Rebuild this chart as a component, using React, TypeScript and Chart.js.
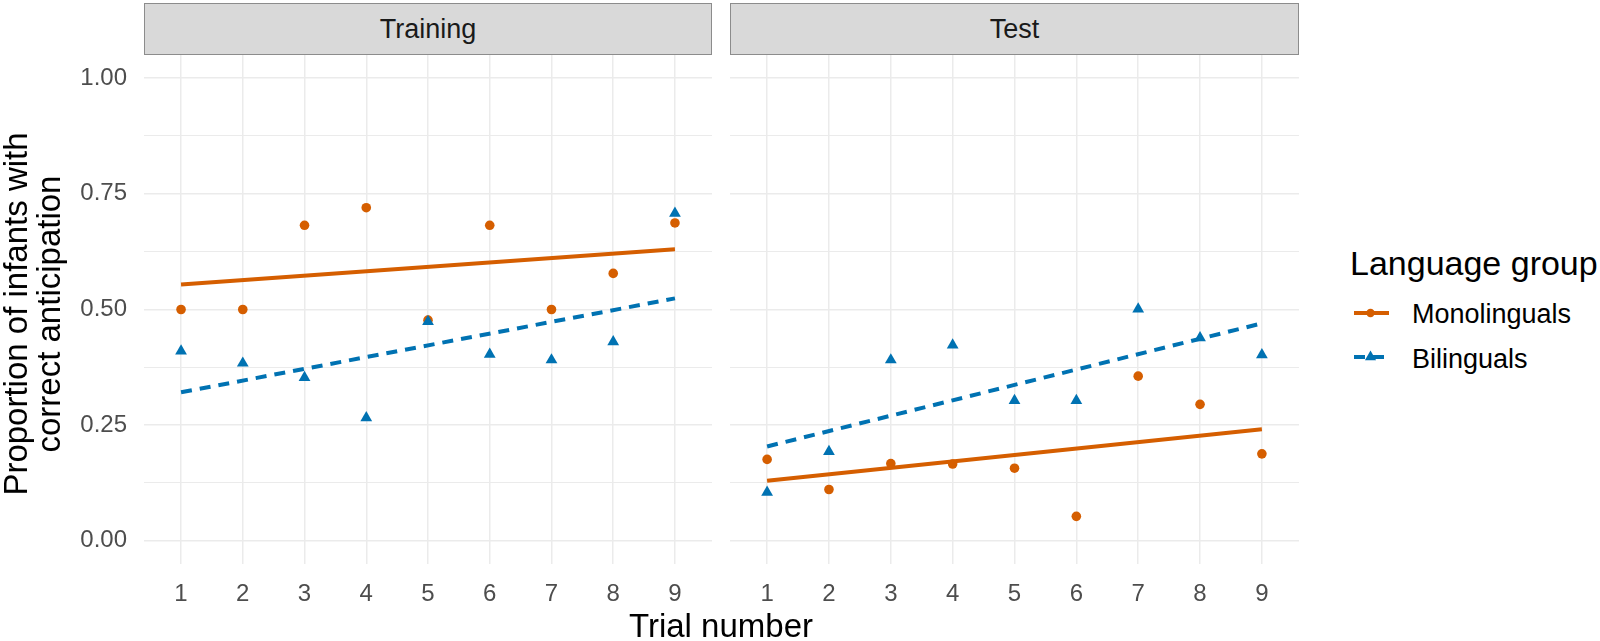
import React, { useEffect, useRef } from 'react';
import { Chart, registerables } from 'chart.js';

Chart.register(...registerables);

// ---------- data ----------
const trials = [1, 2, 3, 4, 5, 6, 7, 8, 9];
const xTickLabels = ['1', '2', '3', '4', '5', '6', '7', '8', '9'];
const yMajorTicks = [0, 0.25, 0.5, 0.75, 1];
const yTickLabels = ['0.00', '0.25', '0.50', '0.75', '1.00'];
const yMinorTicks = [0.125, 0.375, 0.625, 0.875];
const panelNames = ['Training', 'Test'];
const groupNames = ['Monolinguals', 'Bilinguals'];
const legendTitle = 'Language group';
const xTitle = 'Trial number';
const yTitleLines = ['Proportion of infants with', 'correct anticipation'];

const trainingMono = [0.5, 0.5, 0.682, 0.72, 0.477, 0.682, 0.5, 0.578, 0.687];
const trainingBi = [0.41, 0.384, 0.353, 0.266, 0.474, 0.403, 0.391, 0.43, 0.708];
const testMono = [0.176, 0.111, 0.167, 0.166, 0.157, 0.053, 0.356, 0.295, 0.188];
const testBi = [0.105, 0.193, 0.391, 0.423, 0.303, 0.303, 0.501, 0.439, 0.402];

// fitted linear trend lines (values at trial 1 and trial 9)
const fitTrials = [1, 9];
const trainingMonoFit = [0.554, 0.63];
const trainingBiFit = [0.321, 0.524];
const testMonoFit = [0.13, 0.241];
const testBiFit = [0.204, 0.47];

// ---------- styles ----------
const ORANGE = '#D55E00';
const BLUE = '#0072B2';
const GRID = '#EBEBEB';
const FONT = '"Liberation Sans", Arial, Helvetica, sans-serif';
const DASH = [11, 8];
const CANVAS_TOP = 20;
const CANVAS_H = 621;

function makeConfig(mono: number[], bi: number[], monoFit: number[], biFit: number[], showY: boolean, rightPad: number): any {
  const yAll = [...yMajorTicks, ...yMinorTicks].sort((a, b) => a - b);
  return {
    type: 'scatter',
    data: {
      datasets: [
        {
          type: 'line',
          label: groupNames[1] + ' fit',
          data: fitTrials.map((x, i) => ({ x, y: biFit[i] })),
          borderColor: BLUE,
          borderWidth: 4,
          borderDash: DASH,
          pointRadius: 0,
          fill: false,
        },
        {
          type: 'line',
          label: groupNames[0] + ' fit',
          data: fitTrials.map((x, i) => ({ x, y: monoFit[i] })),
          borderColor: ORANGE,
          borderWidth: 4,
          pointRadius: 0,
          fill: false,
        },
        {
          label: groupNames[1],
          data: trials.map((x, i) => ({ x, y: bi[i] })),
          pointStyle: 'triangle',
          pointRadius: 6.8,
          backgroundColor: BLUE,
          borderColor: BLUE,
          borderWidth: 0,
        },
        {
          label: groupNames[0],
          data: trials.map((x, i) => ({ x, y: mono[i] })),
          pointStyle: 'circle',
          pointRadius: 4.8,
          backgroundColor: ORANGE,
          borderColor: ORANGE,
          borderWidth: 0,
        },
      ],
    },
    options: {
      animation: false,
      responsive: false,
      devicePixelRatio: 1,
      events: [],
      layout: { padding: { top: 35, right: rightPad, left: 0, bottom: 0 } },
      plugins: { legend: { display: false }, tooltip: { enabled: false }, title: { display: false } },
      scales: {
        x: {
          type: 'linear',
          min: 0.4,
          max: 9.6,
          afterBuildTicks: (s: any) => {
            s.ticks = trials.map((v) => ({ value: v }));
          },
          afterFit: (s: any) => {
            s.height = 77;
          },
          grid: { color: GRID, lineWidth: 1.5, drawTicks: false },
          border: { display: false },
          ticks: {
            color: '#4D4D4D',
            font: { family: FONT, size: 24 },
            padding: 16,
            autoSkip: false,
            maxRotation: 0,
            callback: (v: number) => {
              const i = trials.indexOf(v);
              return i >= 0 ? xTickLabels[i] : '';
            },
          },
        },
        y: {
          type: 'linear',
          min: -0.05,
          max: 1.05,
          afterBuildTicks: (s: any) => {
            s.ticks = yAll.map((v) => ({ value: v }));
          },
          afterFit: (s: any) => {
            s.width = showY ? 144 : 10;
          },
          grid: {
            color: GRID,
            lineWidth: (ctx: any) => (ctx.tick && yMajorTicks.includes(ctx.tick.value) ? 1.6 : 1.1),
            drawTicks: false,
          },
          border: { display: false },
          ticks: {
            display: showY,
            color: '#4D4D4D',
            font: { family: FONT, size: 24 },
            padding: 17,
            autoSkip: false,
            callback: (v: number) => {
              const i = yMajorTicks.indexOf(v);
              return i >= 0 ? yTickLabels[i] : '';
            },
          },
        },
      },
    },
  };
}

function Panel(props: { left: number; width: number; mono: number[]; bi: number[]; monoFit: number[]; biFit: number[]; showY: boolean; rightPad: number }) {
  const ref = useRef<HTMLCanvasElement | null>(null);
  useEffect(() => {
    const c = ref.current!;
    const chart = new Chart(c, makeConfig(props.mono, props.bi, props.monoFit, props.biFit, props.showY, props.rightPad));
    return () => chart.destroy();
  }, []);
  return (
    <canvas
      ref={ref}
      width={props.width}
      height={CANVAS_H}
      style={{ position: 'absolute', left: props.left, top: CANVAS_TOP, width: props.width, height: CANVAS_H, display: 'block' }}
    />
  );
}

function Strip(props: { left: number; right: number; text: string }) {
  return (
    <div
      style={{
        position: 'absolute',
        left: props.left,
        top: 3,
        width: props.right - props.left,
        height: 52,
        boxSizing: 'border-box',
        background: '#D9D9D9',
        border: '1.5px solid #8C8C8C',
        display: 'flex',
        alignItems: 'center',
        justifyContent: 'center',
        fontSize: 27,
        color: '#1A1A1A',
      }}
    >
      {props.text}
    </div>
  );
}

function LegendKey(props: { color: string; dashed: boolean; triangle: boolean }) {
  return (
    <svg width={40} height={20} style={{ position: 'absolute', left: 0, top: 0 }}>
      <line
        x1={1}
        y1={10}
        x2={36}
        y2={10}
        stroke={props.color}
        strokeWidth={4}
        strokeDasharray={props.dashed ? DASH.join(' ') : undefined}
      />
      {props.triangle ? (
        <polygon points="17.5,3.5 23.1,13.2 11.9,13.2" fill={props.color} />
      ) : (
        <circle cx={17.5} cy={10} r={4.2} fill={props.color} />
      )}
    </svg>
  );
}

export default function App() {
  return (
    <div
      style={{
        position: 'absolute',
        left: 0,
        top: 0,
        width: 1600,
        height: 641,
        background: '#FFFFFF',
        fontFamily: FONT,
        overflow: 'hidden',
      }}
    >
      <Panel left={0} width={720} mono={trainingMono} bi={trainingBi} monoFit={trainingMonoFit} biFit={trainingBiFit} showY={true} rightPad={8} />
      <Panel left={720} width={600} mono={testMono} bi={testBi} monoFit={testMonoFit} biFit={testBiFit} showY={false} rightPad={21} />

      <Strip left={144} right={712} text={panelNames[0]} />
      <Strip left={730} right={1299} text={panelNames[1]} />

      {/* y axis title */}
      <div
        style={{
          position: 'absolute',
          left: 32 - 250,
          top: 314 - 33,
          width: 500,
          height: 66,
          transform: 'rotate(-90deg)',
          transformOrigin: '50% 50%',
          textAlign: 'center',
          fontSize: 33,
          lineHeight: '33px',
          color: '#000',
          whiteSpace: 'nowrap',
        }}
      >
        <div>{yTitleLines[0]}</div>
        <div>{yTitleLines[1]}</div>
      </div>

      {/* x axis title */}
      <div
        style={{
          position: 'absolute',
          left: 721 - 200,
          top: 609,
          width: 400,
          textAlign: 'center',
          fontSize: 33,
          lineHeight: '33px',
          color: '#000',
          whiteSpace: 'nowrap',
        }}
      >
        {xTitle}
      </div>

      {/* legend */}
      <div style={{ position: 'absolute', left: 1350, top: 246, fontSize: 34, lineHeight: '34px', color: '#000', whiteSpace: 'nowrap' }}>
        {legendTitle}
      </div>
      <div style={{ position: 'absolute', left: 1353, top: 303, width: 40, height: 20 }}>
        <LegendKey color={ORANGE} dashed={false} triangle={false} />
      </div>
      <div style={{ position: 'absolute', left: 1412, top: 300.5, fontSize: 27, lineHeight: '27px', color: '#000', whiteSpace: 'nowrap' }}>
        {groupNames[0]}
      </div>
      <div style={{ position: 'absolute', left: 1353, top: 347, width: 40, height: 20 }}>
        <LegendKey color={BLUE} dashed={true} triangle={true} />
      </div>
      <div style={{ position: 'absolute', left: 1412, top: 345.5, fontSize: 27, lineHeight: '27px', color: '#000', whiteSpace: 'nowrap' }}>
        {groupNames[1]}
      </div>
    </div>
  );
}
